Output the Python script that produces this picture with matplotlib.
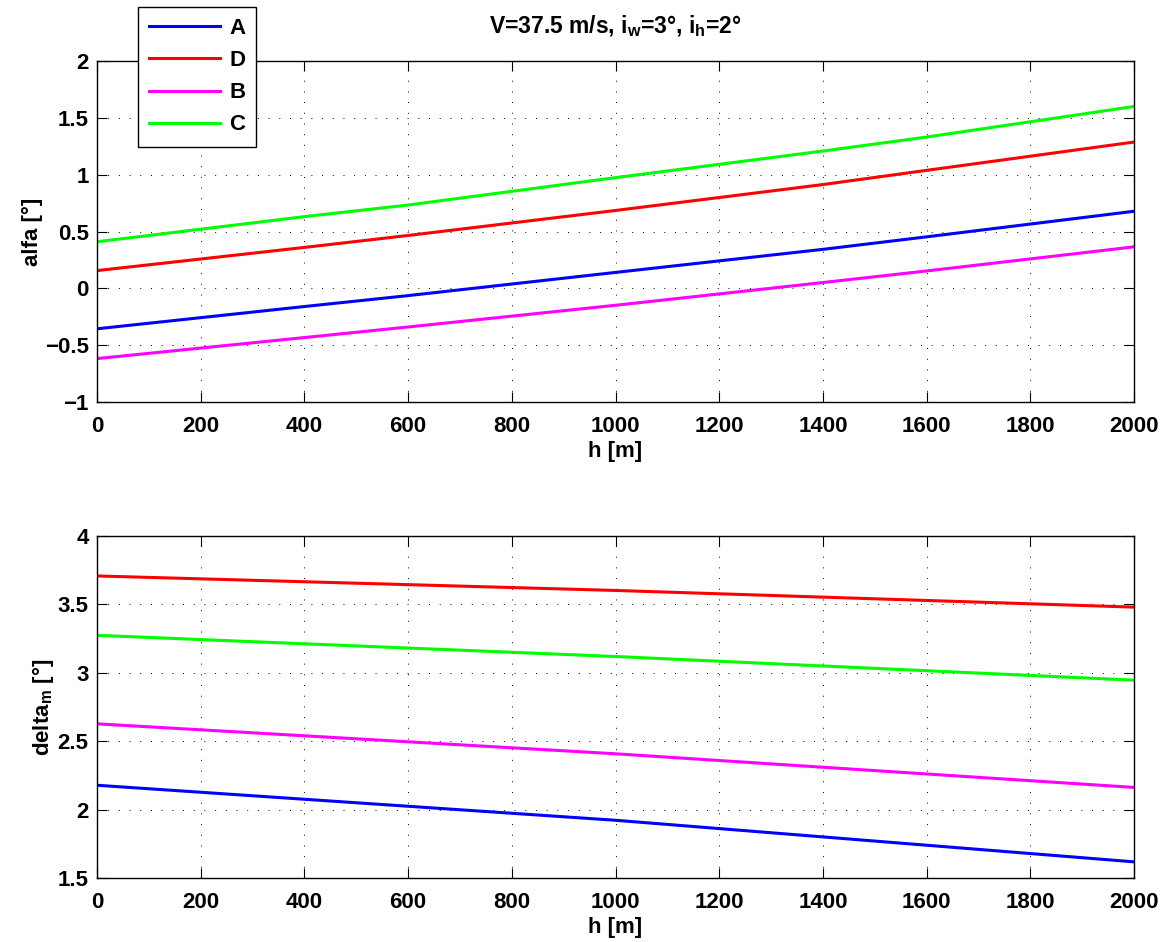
import matplotlib
matplotlib.use("Agg")
import matplotlib.pyplot as plt

plt.rcParams['font.family'] = ['Liberation Sans', 'DejaVu Sans']
plt.rcParams['font.weight'] = 'bold'
plt.rcParams['mathtext.fontset'] = 'custom'
plt.rcParams['mathtext.rm'] = 'Liberation Sans:bold'
plt.rcParams['mathtext.bf'] = 'Liberation Sans:bold'
plt.rcParams['mathtext.it'] = 'Liberation Sans:bold'
plt.rcParams['mathtext.default'] = 'bf'

# ---- data ----
h_top = [0, 400, 600, 1000, 1400, 1600, 2000]
alfa_A = [-0.356, -0.160, -0.064, 0.140, 0.343, 0.453, 0.678]
alfa_D = [0.156, 0.360, 0.465, 0.685, 0.913, 1.038, 1.287]
alfa_B = [-0.618, -0.433, -0.340, -0.149, 0.051, 0.153, 0.365]
alfa_C = [0.410, 0.631, 0.733, 0.974, 1.208, 1.331, 1.600]

h_bot = [0, 1000, 2000]
delta_A = [2.178, 1.922, 1.618]
delta_D = [3.708, 3.602, 3.480]
delta_B = [2.627, 2.408, 2.162]
delta_C = [3.274, 3.119, 2.946]

labels = ['A', 'D', 'B', 'C']
colors = ['#0000ff', '#ff0000', '#ff00ff', '#00ff00']

xticks = list(range(0, 2001, 200))
yticks_top = [-1, -0.5, 0, 0.5, 1, 1.5, 2]
yticks_bot = [1.5, 2, 2.5, 3, 3.5, 4]
ytl_top = ['\u22121', '\u22120.5', '0', '0.5', '1', '1.5', '2']
ytl_bot = ['1.5', '2', '2.5', '3', '3.5', '4']

W, H = 1167, 942
fig = plt.figure(figsize=(W / 100, H / 100), dpi=100)

ax1 = fig.add_axes([97 / W, 1 - 402 / H, 1037 / W, 341 / H])
ax2 = fig.add_axes([97 / W, 1 - 878 / H, 1037 / W, 342 / H])

FS = 16

def style(ax, yt, ytl):
    ax.set_xlim(0, 2000)
    ax.set_xticks(xticks)
    ax.set_xticklabels([str(x) for x in xticks])
    ax.set_yticks(yt)
    ax.set_yticklabels(ytl)
    ax.set_ylim(yt[0], yt[-1])
    ax.tick_params(direction='in', length=7, width=0.8, top=True, right=True,
                   labelsize=FS, colors='black')
    ax.tick_params(axis='x', pad=10)
    ax.tick_params(axis='y', pad=6)
    for lab in ax.get_xticklabels() + ax.get_yticklabels():
        lab.set_fontweight('bold')
    ax.grid(True, linestyle=(0, (1, 10)), color='black', linewidth=0.7)
    for s in ax.spines.values():
        s.set_linewidth(1.0)
        s.set_color('black')
    ax.set_xlabel('h [m]', fontsize=FS, fontweight='bold', labelpad=3)

series_top = [alfa_A, alfa_D, alfa_B, alfa_C]
series_bot = [delta_A, delta_D, delta_B, delta_C]

for lab, c, ys in zip(labels, colors, series_top):
    ax1.plot(h_top, ys, color=c, lw=2.2, label=lab)
for lab, c, ys in zip(labels, colors, series_bot):
    ax2.plot(h_bot, ys, color=c, lw=2.2, label=lab)

style(ax1, yticks_top, ytl_top)
style(ax2, yticks_bot, ytl_bot)

ax1.set_ylabel('alfa [°]', fontsize=FS, fontweight='bold', labelpad=1)
ax2.set_ylabel('delta$_m$ [°]', fontsize=FS, fontweight='bold', labelpad=1)
ax1.set_title('V=37.5 m/s, i$_w$=3°, i$_h$=2°', fontsize=16.5, fontweight='bold', pad=20)

leg = ax1.legend(loc='upper left', bbox_to_anchor=(138 / W, 1 - 7 / H),
                 bbox_transform=fig.transFigure, fontsize=FS, frameon=True,
                 fancybox=False, edgecolor='black', framealpha=1,
                 handlelength=3.2, handletextpad=0.4, labelspacing=0.5,
                 borderpad=0.5, borderaxespad=0)
leg.get_frame().set_linewidth(1.0)
for t in leg.get_texts():
    t.set_fontweight('bold')

fig.savefig('out.png', dpi=100)
